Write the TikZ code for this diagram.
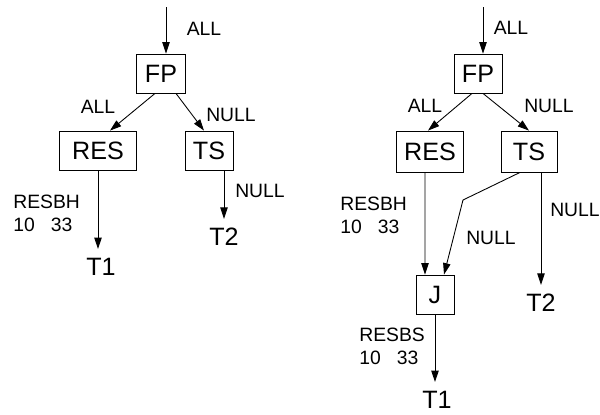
\documentclass[tikz,border=0pt]{standalone}
\usepackage{fontspec}
\setmainfont{Liberation Sans}
\usetikzlibrary{arrows.meta}

\begin{document}
\begin{tikzpicture}[x=0.02cm,y=-0.02cm,
	hop/.style={draw,line width=0.5pt,minimum height=0.78cm,inner sep=0pt,font=\fontsize{14.3}{16}\selectfont},
	nhan/.style={font=\fontsize{11}{13}\selectfont,inner sep=0pt},
	ra/.style={font=\fontsize{14.3}{16}\selectfont,inner sep=0.18cm},
	mui/.style={-{Triangle[length=6.5pt,width=4.2pt]},line width=0.5pt}]
			\useasboundingbox (0,0) rectangle (600,414);
			% Cây 1
			% Vẽ hộp
			\node[hop,minimum width=0.98cm] (fp1) at (161,73.5) {FP};
			\node[hop,minimum width=1.54cm] (res1) at (98,150.5) {RES};
			\node[hop,minimum width=0.96cm] (ts1) at (209,150.5) {TS};
			\node[ra] (t1a) at (101,267) {T1};
			\node[ra] (t2a) at (224,237) {T2};
			\coordinate (in1) at (166,7);
			% Vẽ mũi tên
			\draw[mui] (in1) -- (in1 |- fp1.north);
			\draw[mui] ([xshift=-0.12cm]fp1.south) -- ([xshift=0.24cm]res1.north);
			\draw[mui] ([xshift=0.3cm]fp1.south) -- ([xshift=-0.1cm]ts1.north);
			\draw[mui] (res1.south) -- (res1.south |- t1a.north);
			\draw[mui] (ts1.south -| t2a.north) -- (t2a.north);
			% Nhãn
			\foreach \x/\y/\t/\n in {204/29/ALL/a1, 98/107/ALL/a2, 231/115/NULL/a3, 260/191/NULL/a4}
			\node[nhan] (\n) at (\x,\y) {\t};
			\node[nhan,anchor=north west,align=left] (b1) at (13,195) {RESBH\\10~~~33};
			% Cây 2
			% Vẽ hộp
			\node[hop,minimum width=0.96cm] (fp2) at (478,73.5) {FP};
			\node[hop,minimum width=1.34cm,minimum height=0.82cm] (res2) at (430,151.5) {RES};
			\node[hop,minimum width=1.12cm,minimum height=0.82cm] (ts2) at (529,151.5) {TS};
			\node[hop,minimum width=0.76cm] (j) at (435,294.5) {J};
			\node[ra] (t2b) at (541,303) {T2};
			\node[ra] (t1b) at (437,400) {T1};
			\coordinate (in2) at (483,7);
			\coordinate (gap) at (463,200);
			% Vẽ mũi tên
			\draw[mui] (in2) -- (in2 |- fp2.north);
			\draw[mui] ([xshift=-0.12cm]fp2.south) -- ([xshift=-0.04cm]res2.north);
			\draw[mui] ([xshift=0.1cm]fp2.south) -- (ts2.north);
			\draw[mui] ([xshift=-0.1cm]res2.south) -- ([xshift=-0.2cm]j.north);
			\draw[mui] ([xshift=-0.18cm]ts2.south) -- (gap) -- ([xshift=0.18cm]j.north);
			\draw[mui] (ts2.south -| t2b.north) -- (t2b.north);
			\draw[mui] (j.south) -- (j.south |- t1b.north);
			% Nhãn
			\foreach \x/\y/\t/\n in {511/28/ALL/c1, 425/106/ALL/c2, 549/106/NULL/c3, 491/238/NULL/c4, 575/210/NULL/c5}
			\node[nhan] (\n) at (\x,\y) {\t};
			\node[nhan,anchor=north west,align=left] (d1) at (340,197) {RESBH\\10~~~33};
			\node[nhan,anchor=north west,align=left] (d2) at (359,328) {RESBS\\10~~~33};
		\end{tikzpicture}
\end{document}
